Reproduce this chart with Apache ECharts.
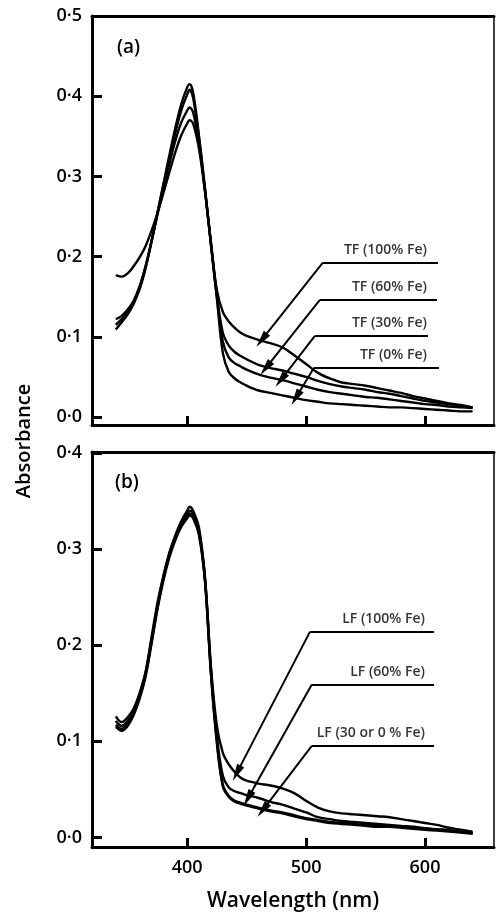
<!DOCTYPE html>
<html>
<head>
<meta charset="utf-8">
<script src="https://cdn.jsdelivr.net/npm/echarts@6/dist/echarts.min.js"></script>
<style>
html,body{margin:0;padding:0;background:#fff;}
#c{width:496px;height:913px;}
</style>
</head>
<body>
<div id="c"></div>
<script>
// ---------- data ----------
var wavelengths = [340,345,350,355,360,365,370,375,380,385,390,395,400,402,405,410,415,420,425,430,435,440,445,450,460,470,480,490,500,510,520,530,540,550,560,570,580,590,600,610,620,630,640];

// Panel (a) transferrin
var tf0   = [0.109,0.118,0.128,0.141,0.159,0.185,0.218,0.254,0.290,0.326,0.360,0.390,0.411,0.415,0.405,0.350,0.285,0.215,0.148,0.080,0.056,0.048,0.043,0.039,0.033,0.030,0.027,0.024,0.021,0.019,0.017,0.016,0.015,0.014,0.013,0.012,0.012,0.011,0.010,0.009,0.008,0.007,0.007];
var tf30  = [0.115,0.122,0.131,0.143,0.161,0.187,0.219,0.254,0.289,0.323,0.354,0.382,0.402,0.408,0.398,0.347,0.284,0.216,0.150,0.094,0.074,0.067,0.063,0.059,0.053,0.049,0.046,0.042,0.038,0.034,0.031,0.029,0.027,0.025,0.024,0.022,0.020,0.018,0.016,0.015,0.013,0.012,0.011];
var tf60  = [0.122,0.126,0.134,0.145,0.163,0.188,0.219,0.252,0.285,0.316,0.344,0.367,0.382,0.386,0.380,0.340,0.282,0.216,0.152,0.105,0.089,0.081,0.076,0.072,0.065,0.061,0.058,0.054,0.050,0.045,0.041,0.038,0.036,0.034,0.031,0.029,0.026,0.023,0.020,0.018,0.016,0.014,0.012];
var tf100 = [0.177,0.175,0.179,0.188,0.199,0.213,0.232,0.254,0.279,0.305,0.330,0.351,0.366,0.370,0.366,0.334,0.281,0.218,0.158,0.131,0.119,0.111,0.105,0.101,0.096,0.092,0.087,0.077,0.066,0.055,0.048,0.043,0.041,0.039,0.036,0.033,0.030,0.026,0.023,0.020,0.017,0.015,0.012];

// Panel (b) lactoferrin
var lf0   = [0.115,0.111,0.116,0.127,0.144,0.167,0.201,0.237,0.267,0.291,0.309,0.323,0.332,0.335,0.332,0.314,0.266,0.170,0.098,0.053,0.042,0.037,0.035,0.033,0.030,0.027,0.025,0.022,0.019,0.017,0.015,0.014,0.013,0.012,0.011,0.011,0.010,0.009,0.008,0.007,0.006,0.005,0.004];
var lf30  = [0.117,0.113,0.118,0.129,0.146,0.169,0.203,0.239,0.269,0.293,0.311,0.325,0.334,0.337,0.334,0.316,0.268,0.172,0.100,0.055,0.043,0.038,0.036,0.034,0.031,0.028,0.026,0.023,0.020,0.018,0.016,0.015,0.014,0.013,0.012,0.0115,0.011,0.010,0.009,0.008,0.007,0.0055,0.004];
var lf60  = [0.121,0.116,0.121,0.131,0.148,0.171,0.205,0.241,0.271,0.295,0.313,0.327,0.337,0.340,0.337,0.318,0.270,0.175,0.105,0.064,0.052,0.048,0.046,0.044,0.041,0.037,0.034,0.030,0.026,0.021,0.019,0.017,0.016,0.015,0.014,0.013,0.012,0.011,0.0095,0.0085,0.0075,0.006,0.005];
var lf100 = [0.126,0.120,0.125,0.134,0.150,0.172,0.208,0.244,0.272,0.296,0.314,0.329,0.340,0.344,0.340,0.322,0.270,0.178,0.116,0.088,0.076,0.068,0.062,0.059,0.056,0.054,0.051,0.046,0.038,0.031,0.027,0.025,0.024,0.023,0.022,0.021,0.019,0.017,0.015,0.013,0.010,0.008,0.006];

// tick values
var xTicks = [400,500,600];
var yTicksA = [0,0.1,0.2,0.3,0.4,0.5];
var yTicksB = [0,0.1,0.2,0.3,0.4];

// annotation labels and anchor points (data units)
var tfLabels = ['TF (100% Fe)','TF (60% Fe)','TF (30% Fe)','TF (0% Fe)'];
var tfLeaderY = [0.1925,0.146,0.101,0.061];
var tfLeaderStart = [514.1,511.6,507.4,506.5];
var tfLeaderEnd = [610.9,610.1,602.5,611.8];
var tfTipX = [462.7,466.1,478.7,491.4];
var tfTipY = [0.096,0.061,0.046,0.024];
var tfTextX = 601.7;

var lfLabels = ['LF (100% Fe)','LF (60% Fe)','LF (30 or 0 % Fe)'];
var lfLeaderY = [0.2138,0.159,0.0952];
var lfLeaderStart = [503.2,504.8,504.8];
var lfLeaderEnd = [607.6,607.6,607.6];
var lfTipX = [441.7,451.0,463.6];
var lfTipY = [0.0669,0.0405,0.0284];
var lfTextX = 600;

// ---------- chart ----------
var FONT = 'Open Sans';
function pair(arr){ return wavelengths.map(function(w,i){ return [w, arr[i]]; }); }
function curve(arr, gi){
  return {type:'line', xAxisIndex:gi, yAxisIndex:gi, data:pair(arr), showSymbol:false, symbol:'none',
    smooth:0.35, lineStyle:{color:'#000', width:2.4}, silent:true, z:3};
}
function annot(labels, ly, lx0, lx1, tx, ty, textX, gi){
  var ml = [];
  for (var i=0;i<labels.length;i++){
    ml.push([{coord:[lx1[i], ly[i]], symbol:'none'},{coord:[lx0[i], ly[i]], symbol:'none'}]);
    ml.push([{coord:[lx0[i], ly[i]], symbol:'none'},{coord:[tx[i], ty[i]], symbol:'triangle', symbolSize:[8,17]}]);
  }
  return {type:'scatter', xAxisIndex:gi, yAxisIndex:gi, symbolSize:0, silent:true, z:5,
    data: labels.map(function(t,i){ return {name:t, value:[textX, ly[i]]}; }),
    label:{show:true, formatter:'{b}', position:[0,0], align:'right', verticalAlign:'middle', offset:[0,-13],
      color:'#000', fontFamily:FONT, fontSize:14, fontWeight:600},
    markLine:{silent:true, animation:false, symbol:['none','none'], symbolSize:[8,17], label:{show:false},
      lineStyle:{color:'#000', width:2, type:'solid'}, emphasis:{disabled:true}, data: ml}
  };
}
function fmtY(v){ return v.toFixed(1).replace('.', '\u00B7'); }

var axisLineMain = {show:true, onZero:false, lineStyle:{color:'#000', width:3}};
function xMain(gi, showLabels){
  return {type:'value', gridIndex:gi, min:320, max:658, position:'bottom',
    axisLine:axisLineMain,
    axisTick:{show:true, inside:true, length:9, lineStyle:{color:'#000', width:3}, customValues:xTicks},
    axisLabel:{show:showLabels, customValues:xTicks, color:'#000', fontFamily:FONT, fontSize:18, fontWeight:600, margin:12},
    splitLine:{show:false},
    name: showLabels ? 'Wavelength (nm)' : '', nameLocation:'middle', nameGap:44,
    nameTextStyle:{color:'#000', fontFamily:FONT, fontSize:21, fontWeight:600}
  };
}
function xTop(gi){
  return {type:'value', gridIndex:gi, min:320, max:658, position:'top',
    axisLine:{show:true, onZero:false, lineStyle:{color:'#000', width:3}},
    axisTick:{show:false}, axisLabel:{show:false}, splitLine:{show:false}};
}
function yMain(gi, max, ticks){
  return {type:'value', gridIndex:gi, min:-0.01, max:max, position:'left',
    axisLine:axisLineMain,
    axisTick:{show:true, inside:true, length:10, lineStyle:{color:'#000', width:3}, customValues:ticks},
    axisLabel:{show:true, customValues:ticks, formatter:fmtY, color:'#000', fontFamily:FONT, fontSize:18, fontWeight:600, margin:10},
    splitLine:{show:false}};
}
function yRight(gi, max){
  return {type:'value', gridIndex:gi, min:-0.01, max:max, position:'right',
    axisLine:{show:true, onZero:false, lineStyle:{color:'#000', width:1.5}},
    axisTick:{show:false}, axisLabel:{show:false}, splitLine:{show:false}};
}

var chart = echarts.init(document.getElementById('c'), null, {renderer:'canvas'});
chart.setOption({
  animation:false,
  backgroundColor:'#fff',
  grid:[
    {left:92, right:2, top:16, height:409, containLabel:false},
    {left:92, right:2, top:452, height:406, containLabel:false}
  ],
  xAxis:[ xMain(0,false), xMain(1,true), xTop(0), xTop(1) ],
  yAxis:[ yMain(0,0.5,yTicksA), yMain(1,0.401,yTicksB), yRight(0,0.5), yRight(1,0.401) ],
  graphic:[
    {type:'text', x:24, y:441, rotation:Math.PI/2,
     style:{text:'Absorbance', fill:'#000', font:'600 20px "Open Sans"', textAlign:'center', textVerticalAlign:'middle'}},
    {type:'text', x:117, y:48, style:{text:'(a)', fill:'#000', font:'600 19px "Open Sans"', textAlign:'left', textVerticalAlign:'middle'}},
    {type:'text', x:115, y:483, style:{text:'(b)', fill:'#000', font:'600 19px "Open Sans"', textAlign:'left', textVerticalAlign:'middle'}}
  ],
  series:[
    curve(tf0,0), curve(tf30,0), curve(tf60,0), curve(tf100,0),
    curve(lf0,1), curve(lf30,1), curve(lf60,1), curve(lf100,1),
    annot(tfLabels, tfLeaderY, tfLeaderStart, tfLeaderEnd, tfTipX, tfTipY, tfTextX, 0),
    annot(lfLabels, lfLeaderY, lfLeaderStart, lfLeaderEnd, lfTipX, lfTipY, lfTextX, 1)
  ]
});
</script>
</body>
</html>
